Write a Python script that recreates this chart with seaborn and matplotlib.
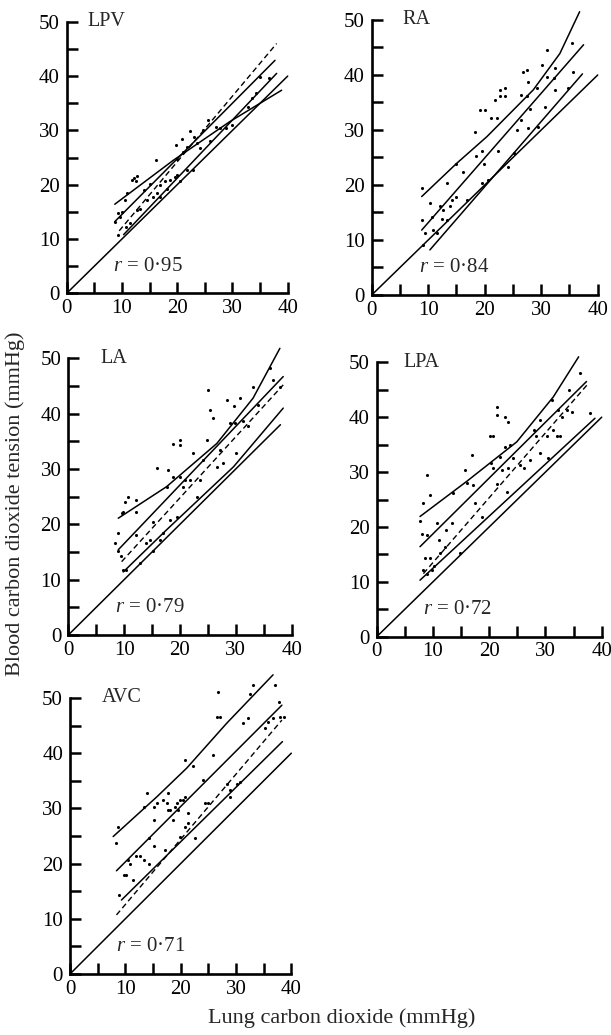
import matplotlib
matplotlib.use("Agg")
import matplotlib.pyplot as plt
import seaborn as sns
import pandas as pd
from matplotlib.ticker import MultipleLocator

# ---------------- data ----------------
panel_names = ["LPV", "RA", "LA", "LPA", "AVC"]
r_labels = ["0·95", "0·84", "0·79", "0·72", "0·71"]
x_ticks = [0, 10, 20, 30, 40]
y_ticks = [0, 10, 20, 30, 40, 50]

# LPV
lpv_px = [16.1, 12.2, 12.5, 11.8, 12.8, 11.0, 10.5, 9.6, 8.7, 9.2, 9.2, 10.7, 12.7, 13.3, 14.5, 15.7,
          16.3, 16.9, 17.8, 18.7, 19.6, 19.8, 20.8, 22.3, 19.9, 21.1, 21.7, 23.5, 24.1, 24.7, 25.6, 27.1,
          27.7, 28.9, 19.9, 20.5, 21.7, 22.9, 32.8, 34.3, 34.9, 36.7, 16.9, 18.1, 10.0, 11.5, 14.0, 15.0,
          23.0, 26.0, 30.0, 33.5]
lpv_py = [24.5, 21.2, 20.6, 20.9, 21.6, 18.4, 17.2, 14.1, 13.2, 14.7, 10.7, 12.3, 15.3, 15.6, 17.2, 17.8,
          18.4, 19.9, 20.6, 20.9, 21.5, 27.3, 28.5, 29.8, 24.8, 26.1, 27.0, 27.6, 26.7, 30.1, 31.9, 30.7,
          30.4, 30.4, 21.8, 20.6, 22.7, 22.7, 34.4, 36.8, 39.9, 39.6, 17.8, 19.3, 15.0, 13.0, 19.0, 20.2,
          28.8, 28.0, 31.0, 36.0]
lpv_fit_x, lpv_fit_y = [8.7, 37.7], [13.2, 42.9]
lpv_dash_x, lpv_dash_y = [9.5, 38.0], [11.5, 46.0]
lpv_low_x, lpv_low_y = [10.3, 38.0], [10.8, 40.5]
lpv_up_x, lpv_up_y = [8.7, 19.3, 29.5, 38.9], [16.4, 24.5, 31.6, 37.4]
lpv_id_x, lpv_id_y = [0, 40], [0, 40]

# RA
ra_px = [8.85, 8.85, 9.4, 9.1, 10.3, 10.6, 10.9, 11.5, 12.1, 12.7, 12.4, 13.3, 13.4, 13.9, 14.2, 15.0,
         15.0, 16.2, 16.8, 18.3, 18.5, 19.2, 20.1, 19.5, 19.6, 19.8, 20.6, 21.2, 21.8, 22.1, 22.4, 22.7,
         23.6, 22.7, 23.6, 24.2, 25.1, 25.7, 26.8, 27.4, 26.5, 27.4, 26.5, 27.7, 28.0, 27.7, 29.2, 29.5,
         30.1, 31.0, 31.0, 30.7, 32.2, 32.4, 32.4, 34.8, 35.4, 35.7]
ra_py = [19.4, 13.6, 11.2, 9.1, 16.7, 14.2, 11.8, 11.2, 16.1, 15.5, 13.9, 13.6, 20.3, 16.1, 17.3, 23.9,
         17.9, 22.4, 17.3, 29.7, 25.2, 33.6, 33.6, 26.1, 20.3, 23.9, 20.9, 32.1, 35.5, 32.1, 26.1, 37.3,
         37.6, 36.1, 36.1, 23.3, 25.8, 30.0, 40.6, 40.9, 36.4, 36.1, 31.8, 38.8, 33.9, 30.3, 37.6, 30.6,
         41.8, 44.5, 39.7, 34.2, 39.4, 37.3, 41.2, 37.6, 45.8, 40.6]
ra_fit_x, ra_fit_y = [8.85, 37.5], [11.8, 45.5]
ra_low_x, ra_low_y = [10.3, 37.3], [8.2, 40.2]
ra_up_x = [8.85, 15.0, 20.4, 28.6, 33.3, 36.8]
ra_up_y = [17.9, 23.9, 28.8, 37.3, 43.9, 51.5]
ra_id_x, ra_id_y = [0, 40], [0, 40]

# LA
la_px = [8.4, 8.95, 8.95, 9.4, 9.55, 9.85, 10.1, 10.7, 9.85, 10.4, 12.2, 12.2, 12.2, 12.8, 14.0, 14.6,
         15.2, 15.2, 15.8, 16.4, 17.0, 17.6, 17.9, 18.2, 18.8, 20.0, 20.0, 19.4, 18.8, 20.0, 20.6, 20.9,
         21.8, 22.4, 23.0, 23.6, 24.2, 24.8, 25.1, 25.4, 26.0, 26.6, 27.2, 27.8, 28.4, 29.0, 29.6, 29.9,
         30.1, 30.7, 31.3, 32.2, 33.1, 34.0, 36.1, 36.7, 37.9]
la_py = [16.6, 18.4, 15.1, 14.2, 22.0, 22.3, 24.1, 25.0, 11.7, 11.7, 18.1, 22.3, 24.4, 13.0, 16.6, 17.2,
         15.1, 20.5, 30.1, 17.2, 18.4, 26.8, 29.8, 20.8, 34.6, 35.2, 34.3, 21.4, 28.6, 28.6, 26.8, 28.0,
         28.0, 32.8, 25.0, 28.0, 31.6, 35.2, 44.3, 40.7, 39.2, 30.4, 33.4, 31.0, 42.5, 38.3, 41.3, 38.3,
         32.8, 42.8, 38.6, 37.7, 44.9, 41.6, 48.2, 46.1, 44.9]
la_fit_x, la_fit_y = [8.95, 38.5], [15.4, 46.7]
la_dash_x, la_dash_y = [9.55, 38.5], [13.25, 45.2]
la_low_x, la_low_y = [9.85, 17.6, 29.6, 38.5], [11.4, 19.0, 30.4, 41.0]
la_up_x, la_up_y = [8.95, 17.6, 26.6, 33.1, 37.9], [21.1, 26.8, 34.6, 42.8, 51.8]
la_id_x, la_id_y = [0, 38], [0, 38]

# LPA
lpa_px = [7.7, 8.0, 8.3, 8.9, 8.9, 9.5, 8.6, 9.5, 8.3, 8.9, 9.8, 10.1, 10.7, 11.0, 11.3, 12.1, 12.4,
          13.3, 13.6, 14.8, 15.7, 16.0, 16.9, 17.2, 17.5, 18.7, 20.1, 20.7, 20.4, 20.7, 21.3, 21.3, 21.3,
          21.9, 22.2, 22.8, 22.8, 23.4, 23.7, 23.1, 23.4, 24.3, 25.5, 26.1, 27.3, 27.9, 28.4, 29.0, 29.0,
          30.2, 30.5, 31.1, 31.4, 32.0, 32.3, 32.6, 32.9, 33.8, 34.1, 34.7, 36.1, 37.9]
lpa_py = [21.0, 18.8, 24.3, 29.5, 18.5, 25.8, 14.3, 14.3, 12.2, 11.5, 12.2, 12.8, 20.7, 17.6, 15.2,
          16.4, 19.4, 20.7, 26.1, 15.2, 30.4, 28.0, 33.1, 27.6, 24.3, 21.9, 36.5, 36.5, 31.6, 30.7, 41.9,
          40.4, 27.9, 32.8, 30.4, 40.1, 34.6, 39.2, 34.9, 26.4, 30.7, 32.5, 31.3, 30.7, 32.2, 37.7, 36.5,
          39.5, 33.4, 36.5, 32.5, 43.1, 37.7, 36.5, 41.3, 36.5, 40.1, 41.3, 45.0, 41.0, 48.0, 40.7]
lpa_fit_x, lpa_fit_y = [7.7, 37.3], [16.4, 46.5]
lpa_dash_x, lpa_dash_y = [8.3, 37.5], [11.5, 46.0]
lpa_low_x, lpa_low_y = [7.7, 38.8], [10.3, 39.8]
lpa_up_x, lpa_up_y = [7.7, 16.0, 24.9, 31.4, 35.9], [21.9, 28.3, 35.5, 43.7, 51.0]
lpa_id_x, lpa_id_y = [0, 40], [0, 40]

# AVC
avc_px = [8.3, 8.7, 8.9, 9.8, 10.2, 10.5, 10.8, 11.4, 12.0, 12.7, 13.3, 13.3, 13.9, 14.2, 14.2, 15.1,
          15.1, 15.1, 15.7, 16.9, 17.2, 17.5, 17.8, 18.1, 17.8, 18.7, 19.0, 19.3, 19.6, 19.9, 19.9, 20.5,
          20.8, 20.8, 20.8, 21.4, 21.4, 22.6, 22.3, 24.1, 24.4, 25.0, 25.9, 26.5, 27.1, 26.8, 28.3, 28.9,
          28.9, 30.1, 30.7, 31.3, 32.2, 32.5, 33.1, 35.2, 36.7, 37.0, 37.7, 38.0, 38.6, 35.8]
avc_py = [23.7, 26.7, 14.4, 17.9, 17.9, 20.7, 20.0, 17.0, 21.3, 21.3, 20.7, 30.3, 32.7, 24.6, 20.0,
          30.3, 27.9, 23.1, 30.9, 31.5, 22.5, 30.9, 29.7, 29.7, 32.7, 27.9, 30.3, 30.9, 29.7, 31.5, 24.9,
          31.5, 32.1, 26.7, 38.8, 29.1, 27.3, 24.6, 37.6, 35.1, 30.9, 30.9, 39.7, 46.6, 46.6, 51.1, 34.5,
          33.3, 32.1, 34.5, 34.8, 45.4, 46.3, 50.8, 52.4, 44.5, 46.3, 52.4, 49.3, 46.6, 46.6, 45.7]
avc_fit_x, avc_fit_y = [8.4, 38.3], [18.7, 48.7]
avc_dash_x, avc_dash_y = [8.4, 38.3], [10.7, 46.0]
avc_low_x, avc_low_y = [9.3, 38.4], [13.4, 42.1]
avc_up_x, avc_up_y = [7.8, 15.7, 21.1, 28.3, 36.7], [24.9, 32.1, 37.3, 45.4, 54.2]
avc_id_x, avc_id_y = [0, 40], [0, 40]

panels = [
    dict(px=lpv_px, py=lpv_py, solid=[(lpv_id_x, lpv_id_y), (lpv_fit_x, lpv_fit_y), (lpv_low_x, lpv_low_y), (lpv_up_x, lpv_up_y)], dash=(lpv_dash_x, lpv_dash_y)),
    dict(px=ra_px, py=ra_py, solid=[(ra_id_x, ra_id_y), (ra_fit_x, ra_fit_y), (ra_low_x, ra_low_y), (ra_up_x, ra_up_y)], dash=None),
    dict(px=la_px, py=la_py, solid=[(la_id_x, la_id_y), (la_fit_x, la_fit_y), (la_low_x, la_low_y), (la_up_x, la_up_y)], dash=(la_dash_x, la_dash_y)),
    dict(px=lpa_px, py=lpa_py, solid=[(lpa_id_x, lpa_id_y), (lpa_fit_x, lpa_fit_y), (lpa_low_x, lpa_low_y), (lpa_up_x, lpa_up_y)], dash=(lpa_dash_x, lpa_dash_y)),
    dict(px=avc_px, py=avc_py, solid=[(avc_id_x, avc_id_y), (avc_fit_x, avc_fit_y), (avc_low_x, avc_low_y), (avc_up_x, avc_up_y)], dash=(avc_dash_x, avc_dash_y)),
]

# ---------------- style / layout ----------------
sns.set_style("ticks")
plt.rcParams["font.family"] = ["Liberation Serif", "DejaVu Serif"]
plt.rcParams["mathtext.fontset"] = "custom"
plt.rcParams["mathtext.rm"] = "Liberation Serif"
plt.rcParams["mathtext.it"] = "Liberation Serif:italic"

W, H = 611, 1035
fig = plt.figure(figsize=(W / 100, H / 100), dpi=100)

# axes boxes in pixels: left, bottom(from top), width, height
boxes = [
    (66.7, 293.3, 221.0, 271.5),
    (371.7, 295.0, 226.0, 275.0),
    (68.3, 635.0, 223.3, 276.7),
    (376.7, 636.7, 225.0, 274.4),
    (70.0, 974.0, 221.3, 276.0),
]
title_x = [3.7, 5.5, 5.7, 4.7, 5.8]

for name, rlab, box, tx, p in zip(panel_names, r_labels, boxes, title_x, panels):
    l, b, w, h = box
    ax = fig.add_axes([l / W, 1 - b / H, w / W, h / H])
    ax.set_facecolor("none")
    for lx, ly in p["solid"]:
        d = pd.DataFrame({"x": lx, "y": ly})
        sns.lineplot(data=d, x="x", y="y", ax=ax, sort=False, estimator=None,
                     color="black", linewidth=1.1, clip_on=False)
    if p["dash"] is not None:
        d = pd.DataFrame({"x": p["dash"][0], "y": p["dash"][1]})
        sns.lineplot(data=d, x="x", y="y", ax=ax, sort=False, estimator=None,
                     color="black", linewidth=1.0, linestyle=(0, (4, 2.5)), clip_on=False)
    dp = pd.DataFrame({"x": p["px"], "y": p["py"]})
    sns.scatterplot(data=dp, x="x", y="y", ax=ax, s=5, color="black", linewidth=0, clip_on=False)

    ax.set_xlim(0, 40)
    ax.set_ylim(0, 50)
    ax.set_xticks(x_ticks)
    ax.set_yticks(y_ticks)
    ax.set_xticklabels([str(t) for t in x_ticks])
    ax.set_yticklabels([str(t) for t in y_ticks])
    ax.xaxis.set_minor_locator(MultipleLocator(5))
    ax.yaxis.set_minor_locator(MultipleLocator(5))
    ax.tick_params(which="both", direction="in", length=8, width=1.8, color="black",
                   labelsize=15, pad=4, labelcolor="black")
    ax.tick_params(axis="y", which="both", pad=5)
    for s in ["top", "right"]:
        ax.spines[s].set_visible(False)
    for s in ["left", "bottom"]:
        ax.spines[s].set_linewidth(1.9)
        ax.spines[s].set_color("black")
    ax.set_xlabel("")
    ax.set_ylabel("")
    ax.text(tx, 50, name, fontsize=14.5, ha="left", va="center")
    ax.text(8.3, 5, r"$r$" + " = " + rlab, fontsize=15, ha="left", va="center")

fig.text(15 / W, 1 - 504 / H, "Blood carbon dioxide tension (mmHg)", rotation=90,
         ha="center", va="center", fontsize=16)
fig.text(342 / W, 1 - 1018 / H, "Lung carbon dioxide (mmHg)", ha="center", va="center", fontsize=16)

fig.savefig("out.png", dpi=100, facecolor="white")
